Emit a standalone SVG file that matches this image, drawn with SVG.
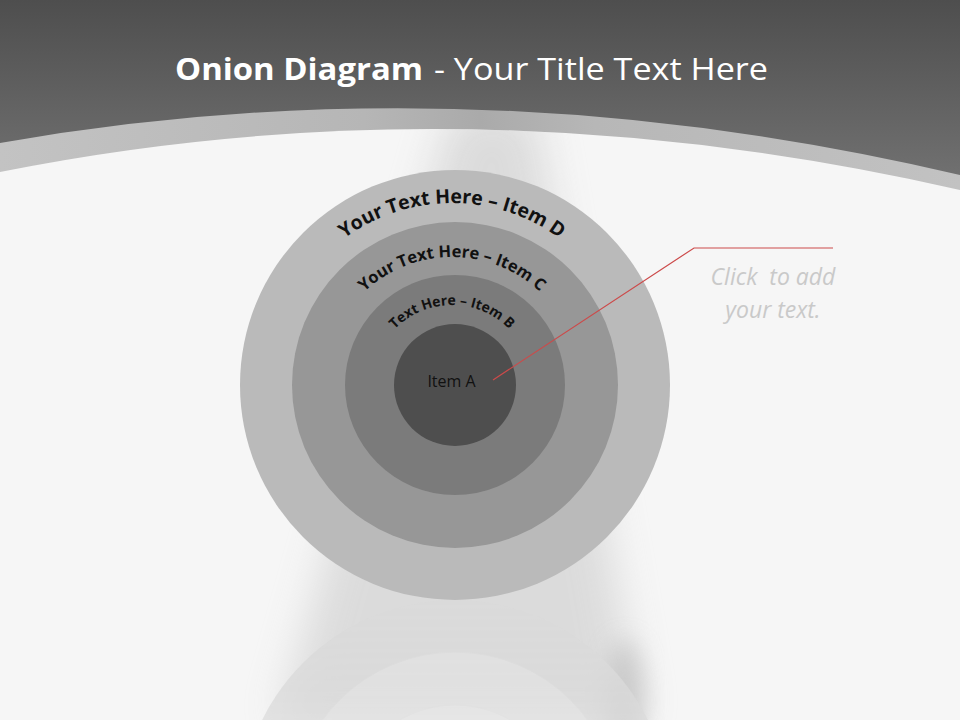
<svg xmlns="http://www.w3.org/2000/svg" width="960" height="720" viewBox="0 0 960 720">
  <defs>
    <linearGradient id="hdr" x1="0" y1="0" x2="0" y2="190" gradientUnits="userSpaceOnUse">
      <stop offset="0" stop-color="#4e4e4e"/>
      <stop offset="1" stop-color="#737373"/>
    </linearGradient>
    <linearGradient id="band" x1="0" y1="0" x2="1" y2="0">
      <stop offset="0" stop-color="#c3c3c3"/>
      <stop offset="0.38" stop-color="#b6b6b6"/>
      <stop offset="0.5" stop-color="#aaaaaa"/>
      <stop offset="0.62" stop-color="#b7b7b7"/>
      <stop offset="1" stop-color="#c2c2c2"/>
    </linearGradient>
    <filter id="blur" x="-50%" y="-20%" width="200%" height="140%">
      <feGaussianBlur stdDeviation="20"/>
    </filter>
    <filter id="blur2" x="-50%" y="-50%" width="200%" height="200%">
      <feGaussianBlur stdDeviation="12"/>
    </filter>
    <linearGradient id="refl" x1="0" y1="600" x2="0" y2="720" gradientUnits="userSpaceOnUse">
      <stop offset="0" stop-color="#fff" stop-opacity="1"/>
      <stop offset="1" stop-color="#fff" stop-opacity="0.7"/>
    </linearGradient>
    <mask id="reflMask" maskUnits="userSpaceOnUse" x="0" y="600" width="960" height="120">
      <rect x="0" y="600" width="960" height="120" fill="url(#refl)"/>
    </mask>
    <clipPath id="bgClip">
      <path d="M0,172 Q470,78 960,190 L960,720 L0,720 Z"/>
    </clipPath>
    <path id="arcD" d="M270,385 A182,182 0 0 1 634,385"/>
    <path id="arcC" d="M324,385 A128,128 0 0 1 580,385"/>
    <path id="arcB" d="M372,385 A80,80 0 0 1 532,385"/>
    <style>
      .lbl { font-family: "Open Sans", "Liberation Sans", sans-serif; font-weight: bold; fill: #111; }
      .title { font-family: "Open Sans", "Liberation Sans", sans-serif; font-size: 31px; fill: #ffffff; }
      .note { font-family: "Open Sans", "Liberation Sans", sans-serif; font-style: italic; font-size: 23px; fill: #c9c9c9; }
    </style>
  </defs>

  <!-- background and header -->
  <g id="background">
    <rect x="0" y="0" width="960" height="720" fill="url(#hdr)"/>
    <path d="M0,143 Q470,60 960,175 L960,720 L0,720 Z" fill="url(#band)"/>
    <path d="M0,172 Q470,78 960,190 L960,720 L0,720 Z" fill="#f6f6f6"/>
    <g clip-path="url(#bgClip)">
      <polygon points="452,110 535,110 640,720 280,720" fill="#bcbcbc" opacity="0.45" filter="url(#blur)"/>
      <ellipse cx="625" cy="700" rx="20" ry="60" fill="#b5b5b5" opacity="0.55" filter="url(#blur2)"/>
    </g>
  </g>

  <g id="title">
    <text class="title" x="175" y="80" font-weight="bold" textLength="248" lengthAdjust="spacingAndGlyphs">Onion Diagram</text>
    <text class="title" x="434" y="80" textLength="334" lengthAdjust="spacingAndGlyphs">- Your Title Text Here</text>
  </g>

  <!-- reflection -->
  <g id="reflection" mask="url(#reflMask)">
    <circle cx="455" cy="815" r="215" fill="#dadada"/>
    <circle cx="455" cy="815" r="163" fill="#e1e1e1" stroke="#dcdcdc" stroke-width="1"/>
    <circle cx="455" cy="815" r="110" fill="#e5e5e5" stroke="#e0e0e0" stroke-width="1"/>
    <circle cx="455" cy="815" r="61" fill="#e8e8e8"/>
  </g>

  <!-- onion rings -->
  <g id="node-D">
    <circle cx="455" cy="385" r="215" fill="#bababa"/>
    <text class="lbl" font-size="19.5"><textPath href="#arcD" startOffset="50%" text-anchor="middle">Your Text Here – Item D</textPath></text>
  </g>
  <g id="node-C">
    <circle cx="455" cy="385" r="163" fill="#979797"/>
    <text class="lbl" font-size="16.5"><textPath href="#arcC" startOffset="50%" text-anchor="middle">Your Text Here – Item C</textPath></text>
  </g>
  <g id="node-B">
    <circle cx="455" cy="385" r="110" fill="#7b7b7b"/>
    <text class="lbl" font-size="14"><textPath href="#arcB" startOffset="50%" text-anchor="middle">Text Here – Item B</textPath></text>
  </g>
  <g id="node-A">
    <circle cx="455" cy="385" r="61" fill="#4e4e4e"/>
    <text x="451.5" y="387" text-anchor="middle" font-family="Open Sans, Liberation Sans, sans-serif" font-size="16" fill="#111111">Item A</text>
  </g>

  <!-- connectors -->
  <g id="connectors">
    <polyline points="493,380 694,248 833,248" fill="none" stroke="#cc4a4a" stroke-width="1.2"/>
  </g>

  <g id="callout-text">
    <text class="note" x="773" y="285" text-anchor="middle" xml:space="preserve">Click  to add</text>
    <text class="note" x="773" y="318" text-anchor="middle">your text.</text>
  </g>
</svg>
